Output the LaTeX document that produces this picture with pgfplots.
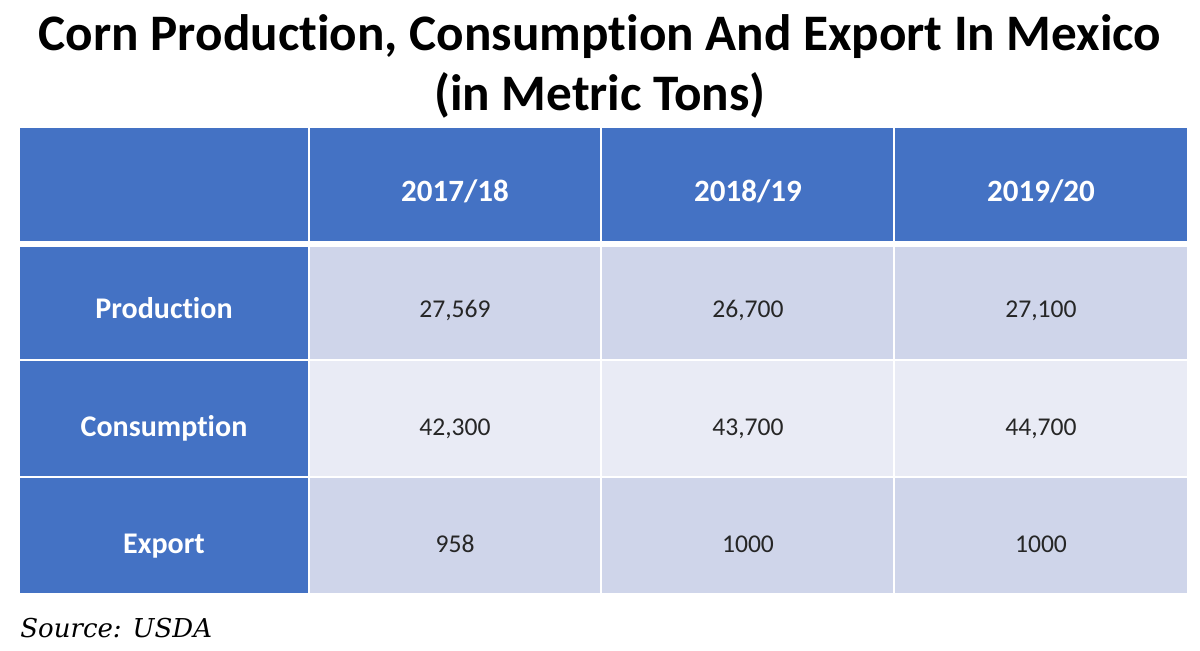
\documentclass[border=0pt]{standalone}
\usepackage{fontspec}
\setmainfont{Carlito}[Ligatures=NoCommon]
\newfontfamily\srcfont{DejaVu Serif}
\usepackage{pgfplots}
\usepackage{pgfplotstable}
\pgfplotsset{compat=1.18}
\definecolor{hdr}{HTML}{4472C4}
\definecolor{bandA}{HTML}{CFD5EA}
\definecolor{bandB}{HTML}{E9EBF5}

\pgfplotstableread{
x y label
455 201 2017/18
748 201 2018/19
1041 201 2019/20
}\headertab

\pgfplotstableread{
x y label
164 318 Production
164 436 Consumption
164 553 Export
}\rowtab

\pgfplotstableread{
x y label
455 317 27,569
748 317 26,700
1041 317 27,100
455 435 42,300
748 435 43,700
1041 435 44,700
455 552 958
748 552 1000
1041 552 1000
}\valtab

\begin{document}
\begin{tikzpicture}
\begin{axis}[
  scale only axis, width=600pt, height=325pt,
  xmin=0, xmax=1200, ymin=0, ymax=650, y dir=reverse,
  hide axis, clip=false,
]
% backdrop
\addplot[fill=white, draw=none] coordinates {(0,0) (1200,0) (1200,650) (0,650)};
% body bands
\addplot[fill=bandA, draw=none] coordinates {(20,246) (1187,246) (1187,360) (20,360)};
\addplot[fill=bandB, draw=none] coordinates {(20,360) (1187,360) (1187,477) (20,477)};
\addplot[fill=bandA, draw=none] coordinates {(20,477) (1187,477) (1187,593) (20,593)};
% header row and first column
\addplot[fill=hdr, draw=none] coordinates {(20,128) (1187,128) (1187,241) (20,241)};
\addplot[fill=hdr, draw=none] coordinates {(20,241) (309,241) (309,593) (20,593)};
% white grid lines
\addplot[white, line width=3pt] coordinates {(20,243.5) (1187,243.5)};
\addplot[white, line width=1pt] coordinates {(20,360) (1187,360)};
\addplot[white, line width=1pt] coordinates {(20,477) (1187,477)};
\addplot[white, line width=1pt] coordinates {(309,128) (309,593)};
\addplot[white, line width=1pt] coordinates {(601,128) (601,593)};
\addplot[white, line width=1pt] coordinates {(894,128) (894,593)};
% header labels
\addplot[only marks, mark=*, mark size=0pt, mark options={draw=none, fill=none},
  point meta=explicit symbolic, nodes near coords,
  every node near coord/.append style={anchor=base, text=white, font=\fontsize{15.5}{17}\selectfont\bfseries}]
  table[x=x, y=y, meta=label] {\headertab};
% row labels
\addplot[only marks, mark=*, mark size=0pt, mark options={draw=none, fill=none},
  point meta=explicit symbolic, nodes near coords,
  every node near coord/.append style={anchor=base, text=white, font=\fontsize{15}{17}\selectfont\bfseries}]
  table[x=x, y=y, meta=label] {\rowtab};
% values
\addplot[only marks, mark=*, mark size=0pt, mark options={draw=none, fill=none},
  point meta=explicit symbolic, nodes near coords,
  every node near coord/.append style={anchor=base, text=black!85, font=\fontsize{12.8}{14}\selectfont}]
  table[x=x, y=y, meta=label] {\valtab};
% title
\node[anchor=base, font=\fontsize{25.6}{30}\selectfont\bfseries] at (axis cs:600,50) {Corn Production, Consumption And Export In Mexico};
\node[anchor=base, font=\fontsize{25.6}{30}\selectfont\bfseries] at (axis cs:600,110) {(in Metric Tons)};
% source
\node[anchor=base west, inner sep=0pt, font=\srcfont\itshape\fontsize{13}{15}\selectfont] at (axis cs:20,637) {Source: USDA};
\end{axis}
\end{tikzpicture}
\end{document}
